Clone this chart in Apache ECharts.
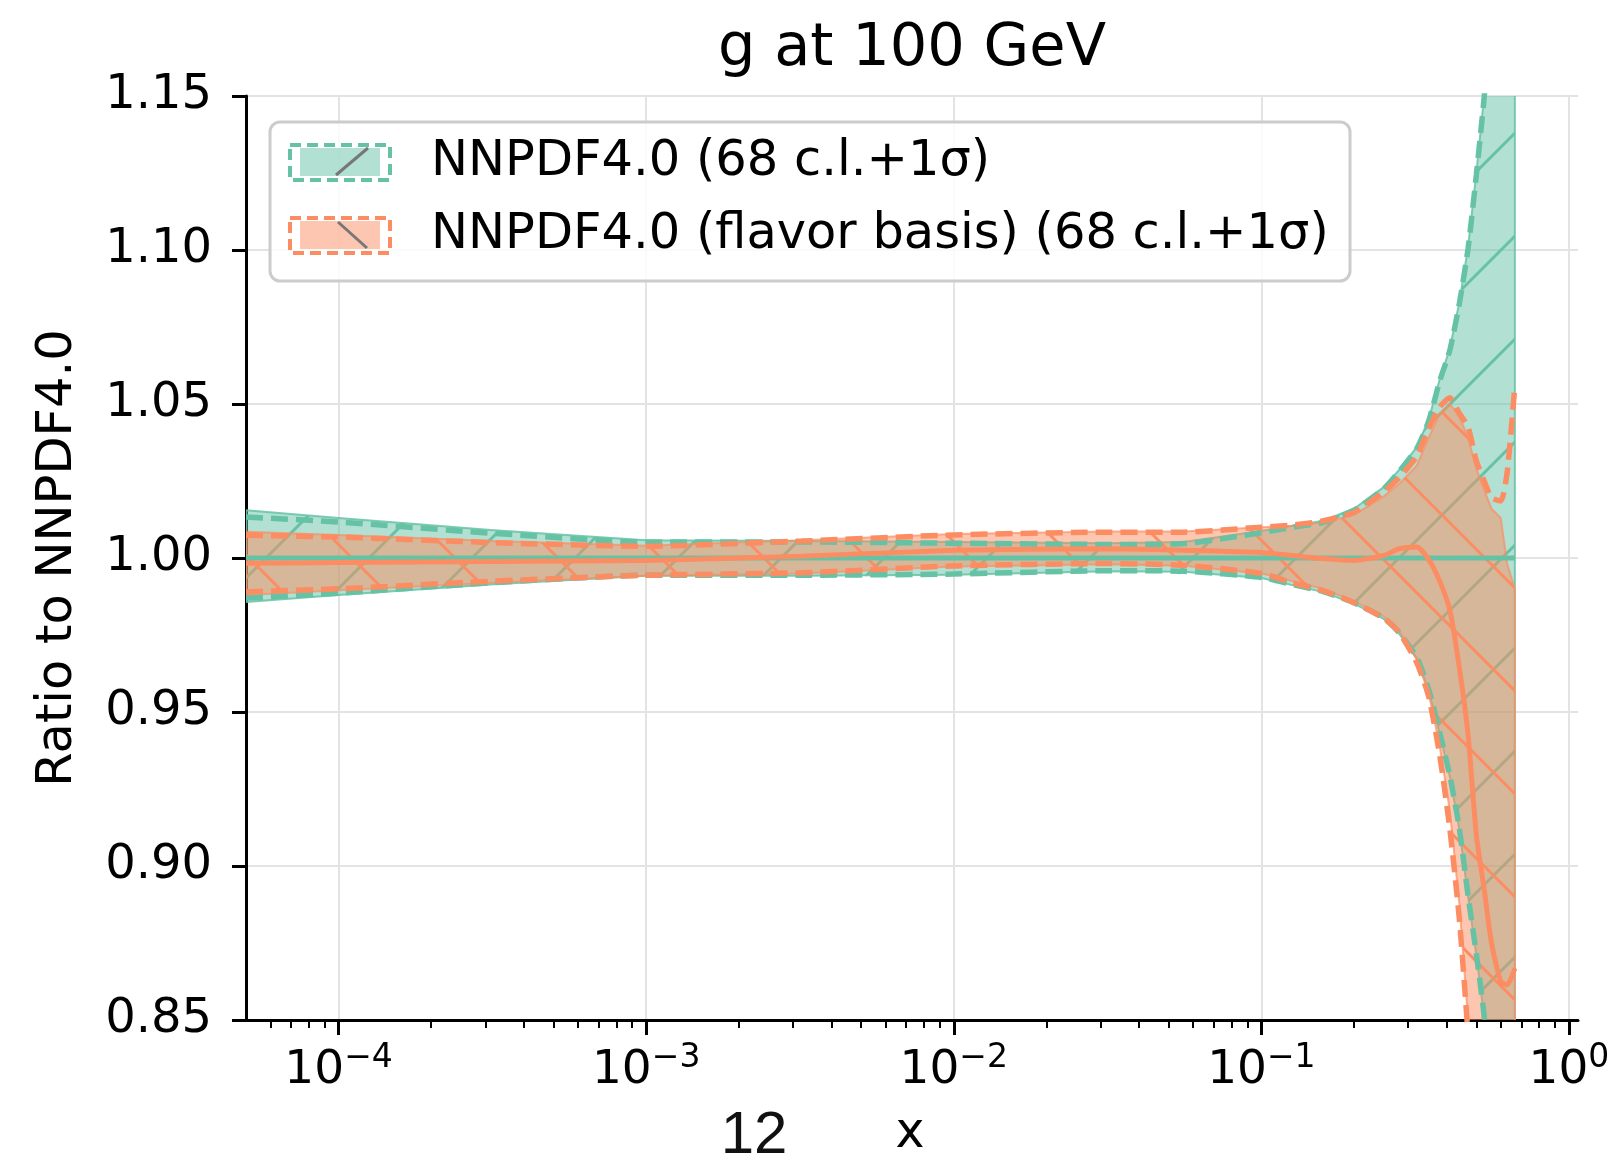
<!DOCTYPE html>
<html>
<head>
<meta charset="utf-8">
<title>g at 100 GeV</title>
<script src="https://cdn.jsdelivr.net/npm/echarts@6/dist/echarts.min.js"></script>
<style>
  html, body { margin: 0; padding: 0; background: #fff; }
  #chart { width: 1619px; height: 1155px; }
</style>
</head>
<body>
<div id="chart"></div>
<script>
// x values (log axis) shared by every curve
const xs = [5.0e-5, 1.0e-4, 3.2e-4, 1.0e-3, 3.2e-3, 1.0e-2, 3.2e-2, 5.6e-2, 0.10, 0.126, 0.158, 0.20, 0.25,
  0.28, 0.32, 0.35, 0.38, 0.41, 0.44, 0.47, 0.50, 0.53, 0.56, 0.60, 0.63, 0.667];

// NNPDF4.0 (green)
const greenMid = [1, 1, 1, 1, 1, 1, 1, 1, 1, 1, 1, 1, 1, 1, 1, 1, 1, 1, 1, 1, 1, 1, 1, 1, 1, 1];
const greenUp = [1.0155, 1.0130, 1.0090, 1.0058, 1.0055, 1.0052, 1.0048, 1.0052, 1.0088, 1.0105, 1.0120, 1.0160, 1.0230,
  1.0285, 1.0360, 1.0450, 1.0580, 1.0680, 1.0830, 1.1010, 1.1250, 1.1500, 1.1850, 1.2300, 1.2700, 1.3200];
const greenLow = [0.9857, 0.9880, 0.9915, 0.9942, 0.9942, 0.9946, 0.9957, 0.9955, 0.9935, 0.9912, 0.9890, 0.9852, 0.9802,
  0.9755, 0.9675, 0.9570, 0.9430, 0.9290, 0.9120, 0.8900, 0.8710, 0.8510, 0.8200, 0.7800, 0.7500, 0.7200];
const greenUpDash = [1.0133, 1.0117, 1.0080, 1.0052, 1.0052, 1.0048, 1.0044, 1.0047, 1.0082, 1.0100, 1.0115, 1.0155, 1.0225,
  1.0280, 1.0355, 1.0445, 1.0575, 1.0675, 1.0825, 1.1005, 1.1245, 1.1495, 1.1800, 1.2250, 1.2650, 1.3150];
const greenLowDash = [0.9870, 0.9886, 0.9920, 0.9944, 0.9944, 0.9948, 0.9959, 0.9957, 0.9937, 0.9914, 0.9892, 0.9855, 0.9805,
  0.9758, 0.9678, 0.9573, 0.9433, 0.9293, 0.9123, 0.8903, 0.8713, 0.8513, 0.8200, 0.7800, 0.7500, 0.7200];

// NNPDF4.0 flavor basis (orange)
const orangeMid = [0.9983, 0.9985, 0.9989, 0.9992, 1.0006, 1.0025, 1.0030, 1.0025, 1.0018, 1.0008, 0.9998, 0.9992, 1.0008,
  1.0030, 1.0036, 0.9995, 0.9925, 0.9830, 0.9645, 0.9425, 0.9100, 0.8925, 0.8750, 0.8625, 0.8614, 0.8668];
const orangeUp = [1.0085, 1.0075, 1.0055, 1.0040, 1.0058, 1.0078, 1.0086, 1.0086, 1.0100, 1.0105, 1.0115, 1.0140, 1.0200,
  1.0240, 1.0300, 1.0390, 1.0470, 1.0500, 1.0460, 1.0390, 1.0290, 1.0220, 1.0160, 1.0130, 0.9980, 0.9900];
const orangeLow = [0.9880, 0.9895, 0.9920, 0.9942, 0.9950, 0.9972, 0.9980, 0.9975, 0.9950, 0.9925, 0.9900, 0.9860, 0.9810,
  0.9765, 0.9670, 0.9560, 0.9390, 0.9180, 0.8880, 0.8500, 0.8100, 0.7800, 0.7500, 0.7200, 0.7000, 0.6800];
const orangeUpDash = [1.0074, 1.0068, 1.0050, 1.0038, 1.0055, 1.0075, 1.0084, 1.0084, 1.0100, 1.0107, 1.0120, 1.0148, 1.0215,
  1.0260, 1.0330, 1.0420, 1.0490, 1.0520, 1.0470, 1.0425, 1.0315, 1.0250, 1.0195, 1.0185, 1.0280, 1.0560];
const orangeLowDash = [0.9890, 0.9900, 0.9925, 0.9944, 0.9952, 0.9974, 0.9982, 0.9976, 0.9950, 0.9920, 0.9895, 0.9855, 0.9805,
  0.9760, 0.9660, 0.9550, 0.9360, 0.9120, 0.8830, 0.8450, 0.8000, 0.7700, 0.7400, 0.7100, 0.6900, 0.6700];

// ticks
const xMajorTicks = [1e-4, 1e-3, 1e-2, 1e-1, 1];
const xMinorTicks = [6e-5, 7e-5, 8e-5, 9e-5];
[1e-4, 1e-3, 1e-2, 1e-1].forEach(function (d) {
  [2, 3, 4, 5, 6, 7, 8, 9].forEach(function (m) { xMinorTicks.push(+(m * d).toPrecision(3)); });
});

const GREEN = '#66c2a5';
const ORANGE = '#fc8d62';
const FONT = 'DejaVu Sans';

function hatch(bg, stroke, dir) {
  const S = 103;
  const c = document.createElement('canvas');
  c.width = S; c.height = S;
  const ctx = c.getContext('2d');
  ctx.fillStyle = bg;
  ctx.fillRect(0, 0, S, S);
  ctx.strokeStyle = stroke;
  ctx.lineWidth = 3;
  for (let k = -1; k <= 1; k++) {
    ctx.beginPath();
    if (dir === '/') { ctx.moveTo(k * S, S); ctx.lineTo(k * S + S, 0); }
    else { ctx.moveTo(k * S, 0); ctx.lineTo(k * S + S, S); }
    ctx.stroke();
  }
  return c;
}

function pairs(ys) { return xs.map(function (x, i) { return [x, ys[i]]; }); }

// filled band between low and up, drawn as one polygon through the axes
function band(low, up, pattern, edge, z) {
  return {
    type: 'custom', clip: true, silent: true, z: z,
    data: pairs(up),
    renderItem: function (params, api) {
      if (params.dataIndex !== 0) return null;
      const pts = [];
      for (let i = 0; i < xs.length; i++) pts.push(api.coord([xs[i], up[i]]));
      for (let i = xs.length - 1; i >= 0; i--) pts.push(api.coord([xs[i], low[i]]));
      return {
        type: 'polygon',
        shape: { points: pts },
        style: { fill: { image: pattern, repeat: 'repeat' }, stroke: edge, lineWidth: 2 }
      };
    }
  };
}

function curve(ys, color, dashed, z) {
  return {
    type: 'line', data: pairs(ys), symbol: 'none', silent: true, smooth: 0.2, z: z,
    lineStyle: { color: color, width: dashed ? 5.5 : 5, type: dashed ? [17, 8] : 'solid' }
  };
}

const chart = echarts.init(document.getElementById('chart'));

const series = [
  band(greenLow, greenUp, hatch('rgba(102,194,165,0.5)', GREEN, '/'), 'rgba(102,194,165,0.85)', 2),
  band(orangeLow, orangeUp, hatch('rgba(252,141,98,0.5)', ORANGE, '\\'), 'rgba(252,141,98,0.7)', 3),
  curve(greenUpDash, GREEN, true, 4),
  curve(greenLowDash, GREEN, true, 4),
  curve(greenMid, GREEN, false, 4),
  curve(orangeUpDash, ORANGE, true, 5),
  curve(orangeLowDash, ORANGE, true, 5),
  curve(orangeMid, ORANGE, false, 5)
];

chart.setOption({
  animation: false,
  backgroundColor: '#fff',
  grid: { left: 246, right: 41, top: 96, bottom: 135 },
  xAxis: [
    {
      type: 'log', logBase: 10, min: 5e-5, max: 1.07,
      axisLine: { lineStyle: { color: '#000', width: 3 } },
      axisTick: { customValues: xMajorTicks, length: 15, lineStyle: { color: '#000', width: 3 } },
      axisLabel: {
        customValues: xMajorTicks, margin: 22,
        formatter: function (v) {
          const e = Math.round(Math.log10(v));
          return '{b|10}{s|' + (e < 0 ? '\u2212' + (-e) : e) + '}';
        },
        rich: {
          b: { fontFamily: FONT, fontSize: 47, color: '#000', lineHeight: 58 },
          s: { fontFamily: FONT, fontSize: 33, color: '#000', lineHeight: 34, verticalAlign: 'top' }
        }
      },
      splitLine: { show: true, lineStyle: { color: '#e3e3e3', width: 2 } }
    },
    {
      type: 'log', logBase: 10, min: 5e-5, max: 1.07, position: 'bottom',
      axisLine: { show: false },
      axisTick: { customValues: xMinorTicks, length: 8, lineStyle: { color: '#000', width: 2 } },
      axisLabel: { show: false },
      splitLine: { show: false }
    }
  ],
  yAxis: {
    type: 'value', min: 0.85, max: 1.15, interval: 0.05,
    axisLine: { show: true, lineStyle: { color: '#000', width: 3 } },
    axisTick: { show: true, length: 14, lineStyle: { color: '#000', width: 3 } },
    axisLabel: {
      margin: 34, fontFamily: FONT, fontSize: 48, color: '#000',
      formatter: function (v) { return v.toFixed(2); }
    },
    splitLine: { show: true, lineStyle: { color: '#e3e3e3', width: 2 } }
  },
  series: series,
  graphic: [
    { type: 'text', x: 912, y: 50, style: { text: 'g at 100 GeV', font: '59px "DejaVu Sans"', fill: '#000', textAlign: 'center', textVerticalAlign: 'middle' } },
    { type: 'text', x: 58, y: 558, rotation: Math.PI / 2, style: { text: 'Ratio to NNPDF4.0', font: '49.5px "DejaVu Sans"', fill: '#000', textAlign: 'center', textVerticalAlign: 'middle' } },
    { type: 'text', x: 910, y: 1134, style: { text: 'x', font: '49px "DejaVu Sans"', fill: '#000', textAlign: 'center', textVerticalAlign: 'middle' } },
    { type: 'text', x: 754, y: 1106, style: { text: '12', font: '60px "Liberation Sans"', fill: '#111', textAlign: 'center', textVerticalAlign: 'top' } },
    // legend
    { type: 'rect', z: 50, shape: { x: 270, y: 122, width: 1080, height: 159, r: 10 }, style: { fill: 'rgba(255,255,255,0.8)', stroke: '#cccccc', lineWidth: 3 } },
    { type: 'rect', z: 51, shape: { x: 300, y: 148, width: 80, height: 28 }, style: { fill: 'rgba(102,194,165,0.5)' } },
    { type: 'line', z: 52, shape: { x1: 336, y1: 175, x2: 368, y2: 148 }, style: { stroke: '#777', lineWidth: 3 } },
    { type: 'rect', z: 52, shape: { x: 290, y: 145, width: 100, height: 35 }, style: { fill: null, stroke: GREEN, lineWidth: 4, lineDash: [11, 6] } },
    { type: 'text', z: 52, x: 431, y: 162, style: { text: 'NNPDF4.0 (68 c.l.+1σ)', font: '49.5px "DejaVu Sans"', fill: '#000', textVerticalAlign: 'middle' } },
    { type: 'rect', z: 51, shape: { x: 300, y: 221, width: 80, height: 28 }, style: { fill: 'rgba(252,141,98,0.5)' } },
    { type: 'line', z: 52, shape: { x1: 338, y1: 222, x2: 367, y2: 248 }, style: { stroke: '#777', lineWidth: 3 } },
    { type: 'rect', z: 52, shape: { x: 290, y: 218, width: 100, height: 35 }, style: { fill: null, stroke: ORANGE, lineWidth: 4, lineDash: [11, 6] } },
    { type: 'text', z: 52, x: 431, y: 235, style: { text: 'NNPDF4.0 (flavor basis) (68 c.l.+1σ)', font: '49.5px "DejaVu Sans"', fill: '#000', textVerticalAlign: 'middle' } }
  ]
});
</script>
</body>
</html>
